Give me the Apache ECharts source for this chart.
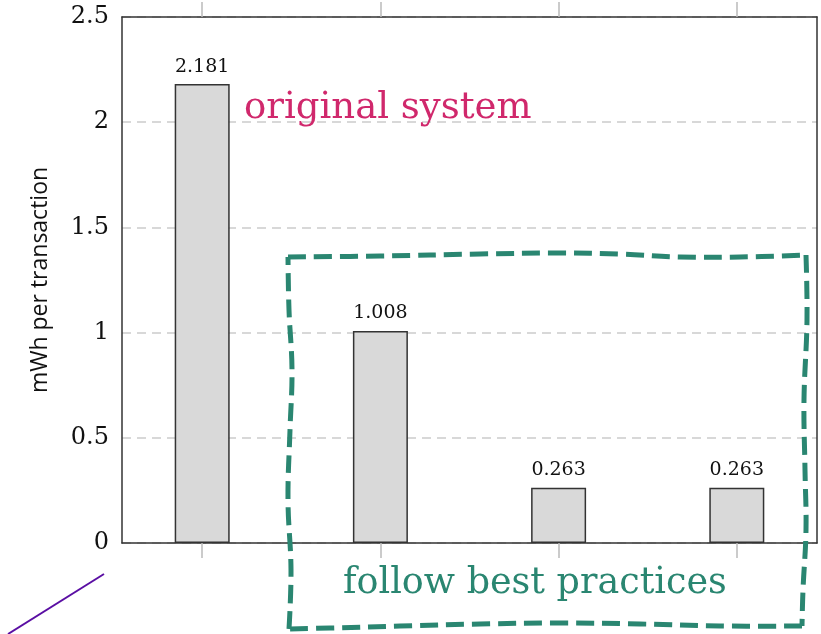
<!DOCTYPE html>
<html><head><meta charset="utf-8">
<script src="https://cdn.jsdelivr.net/npm/echarts@6/dist/echarts.min.js"></script>
<style>html,body{margin:0;padding:0;background:#fff}#c{width:821px;height:634px}</style>
</head><body><div id="c"></div>
<script>
const categories = [0, 1, 2, 3];
const values = [2.181, 1.008, 0.263, 0.263];
const valueLabels = ['2.181', '1.008', '0.263', '0.263'];
const yTicks = [0, 0.5, 1, 1.5, 2, 2.5];
const yName = 'mWh per transaction';
const noteTop = 'original system';
const noteBottom = 'follow best practices';

const chart = echarts.init(document.getElementById('c'), null, {renderer: 'canvas'});
const frame = {show: true, onZero: false, lineStyle: {color: '#333', width: 1.5}};
const xTick = {show: true, inside: false, length: 15, customValues: categories, lineStyle: {color: '#bbb', width: 1.5}};
const boxTop = [[288,257],[380,256],[480,254],[560,253],[620,254],[680,257],[740,257],[806,255]];
const boxRight = [[806,255],[807,320],[804,400],[805,470],[806,530],[803,590],[802,626]];
const boxBottom = [[802,626],[720,626],[640,624],[560,623],[480,624],[400,626],[330,628],[289,629]];
const boxLeft = [[289,629],[291,570],[288,500],[290,430],[292,370],[289,310],[288,257]];
const boxStyle = {stroke: '#2a8671', lineWidth: 5, fill: null, lineDash: [18, 8]};
chart.setOption({
  animation: false,
  grid: {left: 122, right: 4, top: 17, bottom: 91, containLabel: false},
  xAxis: [
    {type: 'value', position: 'bottom', min: -0.45, max: 3.45, axisLine: frame,
     axisTick: xTick, axisLabel: {show: false}, splitLine: {show: false}},
    {type: 'value', position: 'top', min: -0.45, max: 3.45, axisLine: frame,
     axisTick: xTick, axisLabel: {show: false}, splitLine: {show: false}}
  ],
  yAxis: [
    {type: 'value', position: 'left', min: 0, max: 2.5, interval: 0.5, axisLine: frame, axisTick: {show: false},
     name: yName, nameLocation: 'middle', nameGap: 70,
     nameTextStyle: {fontFamily: 'Open Sans', fontSize: 23, color: '#111'},
     axisLabel: {fontFamily: 'DejaVu Serif', fontSize: 24, color: '#111', margin: 13,
       formatter: v => (yTicks.indexOf(v) >= 0 ? String(v) : '')},
     splitLine: {show: true, lineStyle: {color: '#ccc', width: 1.5, type: [9, 6]}}},
    {type: 'value', position: 'right', min: 0, max: 2.5, interval: 0.5, axisLine: frame,
     axisTick: {show: false}, axisLabel: {show: false}, splitLine: {show: false}}
  ],
  series: [{
    type: 'bar', barWidth: 55,
    data: categories.map((c, i) => [c, values[i]]),
    itemStyle: {color: '#d9d9d9', borderColor: '#333', borderWidth: 1.5},
    label: {show: true, position: 'top', distance: 8, fontFamily: 'DejaVu Serif', fontSize: 19, color: '#111',
      formatter: p => valueLabels[p.dataIndex]}
  }],
  graphic: [
    {type: 'text', left: 244, top: 90, z: 10,
     style: {text: noteTop, font: '37px "DejaVu Serif"', fill: '#d0286c'}},
    {type: 'text', left: 343, top: 565, z: 10,
     style: {text: noteBottom, font: '36.5px "DejaVu Serif"', fill: '#2a8671'}},
    {type: 'polyline', z: 10, shape: {points: boxTop, smooth: 0.4}, style: boxStyle},
    {type: 'polyline', z: 10, shape: {points: boxRight, smooth: 0.4}, style: boxStyle},
    {type: 'polyline', z: 10, shape: {points: boxBottom, smooth: 0.4}, style: boxStyle},
    {type: 'polyline', z: 10, shape: {points: boxLeft, smooth: 0.4}, style: boxStyle},
    {type: 'line', z: 10, shape: {x1: 104, y1: 574, x2: 8, y2: 634},
     style: {stroke: '#5a0ea3', lineWidth: 2}}
  ]
});
</script></body></html>
